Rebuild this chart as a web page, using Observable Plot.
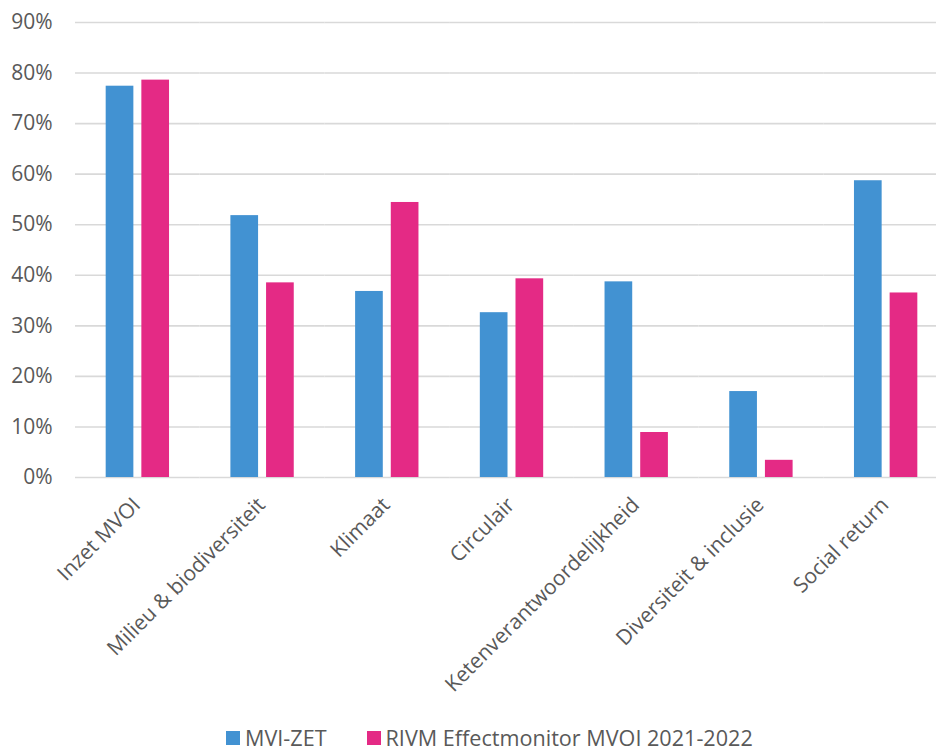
<!DOCTYPE html>
<html>
<head>
<meta charset="utf-8">
<script src="https://cdn.jsdelivr.net/npm/d3@7"></script>
<script src="https://cdn.jsdelivr.net/npm/@observablehq/plot@0.6"></script>
<style>
  html, body { margin: 0; padding: 0; background: #fff; overflow: hidden; width: 936px; height: 752px; }
  #chart { position: relative; width: 936px; height: 752px; overflow: hidden; }
  #chart svg { max-width: none !important; }
  #legend { position: absolute; left: 226px; top: 723px; display: flex; align-items: center;
            font-family: "Open Sans", sans-serif; font-size: 21.6px; color: #595959; white-space: nowrap; }
  .sw { display: inline-block; width: 14px; height: 14px; margin-right: 5px; }
  .item { display: flex; align-items: center; margin-right: 40px; }
</style>
</head>
<body>
<div id="chart"></div>
<script>
const categories = ["Inzet MVOI", "Milieu & biodiversiteit", "Klimaat", "Circulair", "Ketenverantwoordelijkheid", "Diversiteit & inclusie", "Social return"];
const seriesNames = ["MVI-ZET", "RIVM Effectmonitor MVOI 2021-2022"];
const mviZet = [0.774, 0.518, 0.368, 0.326, 0.387, 0.170, 0.587];
const rivm = [0.786, 0.385, 0.544, 0.393, 0.089, 0.034, 0.365];
const yTicks = [0, 0.1, 0.2, 0.3, 0.4, 0.5, 0.6, 0.7, 0.8, 0.9];
const colors = ["#4292d2", "#e42a85"];

const data = [];
categories.forEach((c, i) => {
  data.push({category: c, series: seriesNames[0], value: mviZet[i]});
  data.push({category: c, series: seriesNames[1], value: rivm[i]});
});

const plot = Plot.plot({
  width: 948,
  height: 720,
  marginLeft: 75,
  marginRight: 0,
  marginTop: 22,
  marginBottom: 243,
  style: {fontFamily: "'Open Sans', sans-serif", fontSize: "21px", color: "#595959", background: "#fff"},
  fx: {domain: categories, padding: 0, round: false},
  x: {domain: seriesNames, paddingInner: 0.224, paddingOuter: 0.86, round: false, axis: null},
  y: {domain: [0, 0.9], axis: null},
  color: {domain: seriesNames, range: colors},
  marks: [
    Plot.ruleY(yTicks, {stroke: "#d9d9d9", strokeWidth: 1.6}),
    Plot.barY(data, {fx: "category", x: "series", y: "value", fill: "series"}),
    Plot.axisY(yTicks, {tickFormat: d3.format(".0%"), tickSize: 0, tickPadding: 23, label: null, fontSize: 21}),
    Plot.axisFx({anchor: "bottom", label: null, tickSize: 0, tickRotate: -45, tickPadding: 0, fontSize: 21, dx: -1, dy: 24})
  ]
});
document.getElementById("chart").appendChild(plot);

const legend = document.createElement("div");
legend.id = "legend";
seriesNames.forEach((s, i) => {
  const item = document.createElement("span");
  item.className = "item";
  const sw = document.createElement("span");
  sw.className = "sw";
  sw.style.background = colors[i];
  item.appendChild(sw);
  item.appendChild(document.createTextNode(s));
  legend.appendChild(item);
});
document.getElementById("chart").appendChild(legend);
</script>
</body>
</html>
